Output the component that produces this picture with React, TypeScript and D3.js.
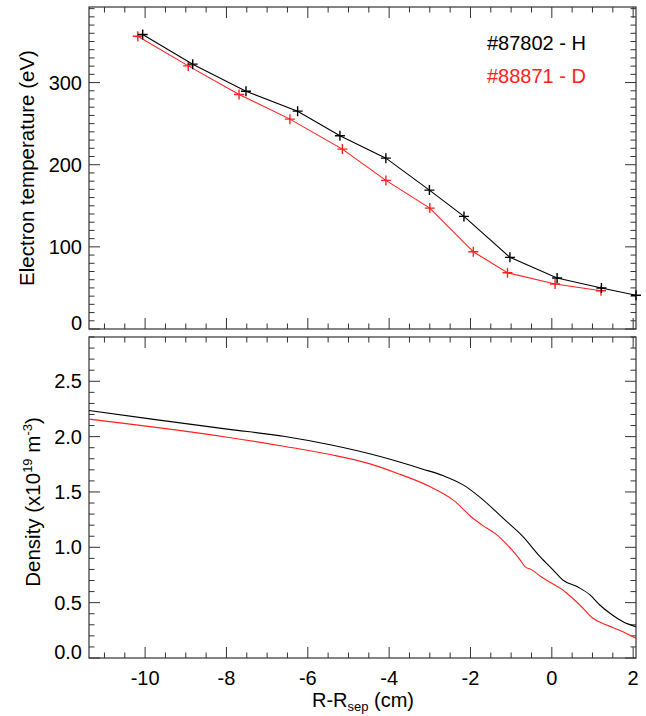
import React, { useEffect, useRef } from 'react';
import * as d3 from 'd3';

// Electron temperature profiles (R - Rsep in cm, Te in eV)
const teHx = [-10.06, -8.83, -7.52, -6.25, -5.21, -4.08, -3.01, -2.16, -1.03, 0.13, 1.22, 2.07];
const teHy = [358.5, 322.4, 289.5, 265.2, 235.2, 208, 169.1, 137.1, 87.2, 62, 49.9, 41];
const teDx = [-10.18, -8.94, -7.69, -6.44, -5.15, -4.08, -3.0, -1.93, -1.09, 0.08, 1.21];
const teDy = [356.4, 320.3, 285.5, 255.5, 219, 180.9, 147.2, 94, 68.5, 54.7, 46.6];

// Density profiles (x10^19 m^-3)
const neHx = [-11.38, -9.88, -7.98, -6.56, -5.45, -4.22, -3.17, -2.68, -2.18, -1.84, -1.69, -1.2, -0.71, -0.29, 0.03, 0.27, 0.62, 0.94, 1.18, 1.43, 1.75, 2.07];
const neHy = [2.236, 2.16, 2.068, 2.001, 1.926, 1.82, 1.706, 1.648, 1.564, 1.474, 1.429, 1.263, 1.097, 0.916, 0.796, 0.705, 0.645, 0.57, 0.479, 0.404, 0.328, 0.283];
const neDx = [-11.38, -7.98, -6.56, -5.45, -4.47, -3.81, -3.0, -2.43, -1.94, -1.72, -1.35, -1.2, -0.98, -0.78, -0.66, -0.49, -0.29, 0.0, 0.27, 0.37, 0.69, 1.01, 1.35, 1.75, 2.07];
const neDy = [2.158, 1.995, 1.911, 1.838, 1.754, 1.67, 1.549, 1.429, 1.263, 1.203, 1.112, 1.061, 0.976, 0.886, 0.826, 0.796, 0.741, 0.675, 0.615, 0.585, 0.479, 0.359, 0.298, 0.238, 0.178];

const xTicks = [-10, -8, -6, -4, -2, 0, 2];
const teTicks = [0, 100, 200, 300];
const neTicks = [0.0, 0.5, 1.0, 1.5, 2.0, 2.5];

const legend = [
  { label: '#87802 - H', color: '#000000' },
  { label: '#88871 - D', color: '#ff2020' },
];

const FONT = '"Liberation Sans", Arial, Helvetica, sans-serif';

export default function App() {
  const svgRef = useRef<SVGSVGElement>(null);

  useEffect(() => {
    const svg = d3.select(svgRef.current);
    svg.selectAll('*').remove();

    const left = 89;
    const right = 636;
    const x = d3.scaleLinear().domain([-11.38, 2.07]).range([left, right]);
    const yT = d3.scaleLinear().domain([0, 392]).range([329, 7]);
    const yN = d3.scaleLinear().domain([0, 2.9]).range([658, 337]);

    const axisColor = '#333';
    const xMinor = d3.range(-11, 2.01, 0.5);

    const panel = (y: d3.ScaleLinear<number, number>, minorStep: number, majors: number[], fmt: (v: number) => string) => {
      const [y0, y1] = y.range();
      const g = svg.append('g');
      g.append('rect')
        .attr('x', left).attr('y', y1)
        .attr('width', right - left).attr('height', y0 - y1)
        .attr('fill', 'none').attr('stroke', axisColor).attr('stroke-width', 1.2);

      // x ticks, bottom and top, pointing inward
      xMinor.forEach(v => {
        const major = xTicks.includes(v);
        const len = major ? 11 : 5.5;
        const px = x(v);
        g.append('line').attr('x1', px).attr('x2', px).attr('y1', y0).attr('y2', y0 - len).attr('stroke', axisColor);
        g.append('line').attr('x1', px).attr('x2', px).attr('y1', y1).attr('y2', y1 + len).attr('stroke', axisColor);
      });

      // y ticks, left and right
      const [d0, d1] = y.domain();
      const yMinor = d3.range(d0, d1 + 1e-9, minorStep);
      yMinor.forEach(v => {
        const major = majors.some(m => Math.abs(m - v) < 1e-6);
        const len = major ? 11 : 5.5;
        const py = y(v);
        g.append('line').attr('x1', left).attr('x2', left + len).attr('y1', py).attr('y2', py).attr('stroke', axisColor);
        g.append('line').attr('x1', right).attr('x2', right - len).attr('y1', py).attr('y2', py).attr('stroke', axisColor);
      });

      majors.forEach(v => {
        const py = y(v) + 7 - (v === d0 ? 6 : 0);
        g.append('text')
          .attr('x', left - 7).attr('y', py)
          .attr('text-anchor', 'end')
          .attr('font-family', FONT).attr('font-size', 20)
          .text(fmt(v));
      });
    };

    panel(yT, 10, teTicks, v => String(v));
    panel(yN, 0.1, neTicks, v => v.toFixed(1));

    // x tick labels (bottom panel only)
    xTicks.forEach(v => {
      svg.append('text')
        .attr('x', x(v)).attr('y', 684.5)
        .attr('text-anchor', 'middle')
        .attr('font-family', FONT).attr('font-size', 20)
        .text(String(v));
    });

    // temperature lines with + markers
    const teSeries = [
      { xs: teHx, ys: teHy, color: legend[0].color },
      { xs: teDx, ys: teDy, color: legend[1].color },
    ];
    const line = d3.line<[number, number]>().x(d => x(d[0]));
    [...teSeries].reverse().forEach(s => {
      const pts = s.xs.map((v, i) => [v, s.ys[i]] as [number, number]);
      svg.append('path')
        .attr('d', line.y(d => yT(d[1]))(pts))
        .attr('fill', 'none').attr('stroke', s.color).attr('stroke-width', 1.1);
      pts.forEach(p => {
        const cx = x(p[0]);
        const cy = yT(p[1]);
        svg.append('path')
          .attr('d', `M${cx - 5},${cy}H${cx + 5}M${cx},${cy - 5}V${cy + 5}`)
          .attr('stroke', s.color).attr('stroke-width', 1.4);
      });
    });

    // density lines
    const neSeries = [
      { xs: neDx, ys: neDy, color: legend[1].color },
      { xs: neHx, ys: neHy, color: legend[0].color },
    ];
    const smooth = d3.line<[number, number]>()
      .x(d => x(d[0]))
      .y(d => yN(d[1]))
      .curve(d3.curveMonotoneX);
    neSeries.forEach(s => {
      const pts = s.xs.map((v, i) => [v, s.ys[i]] as [number, number]);
      svg.append('path')
        .attr('d', smooth(pts))
        .attr('fill', 'none').attr('stroke', s.color).attr('stroke-width', 1.1);
    });

    // legend
    legend.forEach((l, i) => {
      svg.append('text')
        .attr('x', 487).attr('y', 49.5 + i * 33.5)
        .attr('font-family', FONT).attr('font-size', 20)
        .attr('fill', l.color)
        .text(l.label);
    });

    // axis titles
    svg.append('text')
      .attr('transform', 'translate(33.5,168) rotate(-90)')
      .attr('text-anchor', 'middle')
      .attr('font-family', FONT).attr('font-size', 20.5)
      .text('Electron temperature (eV)');

    const dens = svg.append('text')
      .attr('transform', 'translate(39.5,502) rotate(-90)')
      .attr('text-anchor', 'middle')
      .attr('font-family', FONT).attr('font-size', 20.5);
    dens.append('tspan').text('Density (x10');
    dens.append('tspan').attr('font-size', 13).attr('dy', -8).text('19');
    dens.append('tspan').attr('dy', 8).text(' m');
    dens.append('tspan').attr('font-size', 13).attr('dy', -8).text('-3');
    dens.append('tspan').attr('dy', 8).text(')');

    const xt = svg.append('text')
      .attr('x', 363).attr('y', 707)
      .attr('text-anchor', 'middle')
      .attr('font-family', FONT).attr('font-size', 20);
    xt.append('tspan').text('R-R');
    xt.append('tspan').attr('font-size', 13).attr('dy', 4).text('sep');
    xt.append('tspan').attr('dy', -4).text(' (cm)');
  }, []);

  return (
    <svg
      ref={svgRef}
      width={646}
      height={716}
      style={{ position: 'absolute', left: 0, top: 0, background: 'white' }}
    />
  );
}
